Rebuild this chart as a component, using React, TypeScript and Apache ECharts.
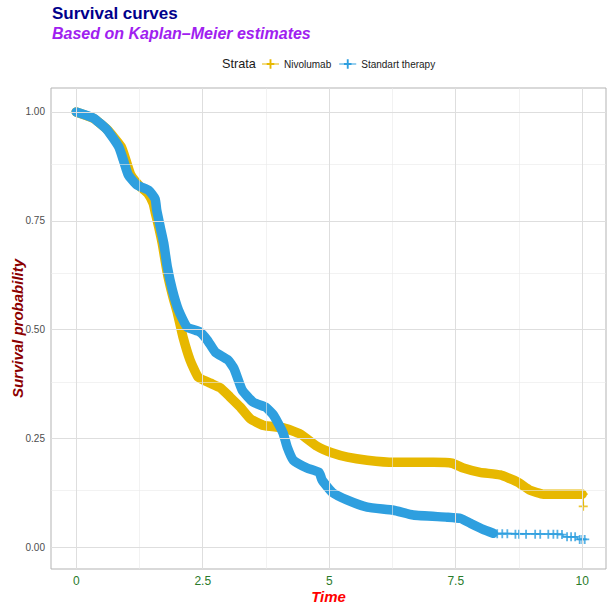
import React, { useEffect, useRef } from "react";
import * as echarts from "echarts";

// ---- Data ----
const strataNames = ["Nivolumab", "Standart therapy"];
const strataColors = ["#E7B800", "#2E9FDF"];

// Nivolumab KM curve (dense censoring band)
const nivoTime = [0, 0.34, 0.61, 0.89, 0.98, 1.08, 1.25, 1.42, 1.52, 1.56, 1.63, 1.7, 1.8, 1.9, 2.0, 2.11, 2.25, 2.41, 2.65, 2.85, 3.04, 3.24, 3.44, 3.7, 4.1, 4.43, 4.76, 5.05, 5.36, 5.75, 6.27, 7.06, 7.43, 7.65, 7.98, 8.38, 8.72, 8.97, 9.23, 10.0];
const nivoSurv = [1.0, 0.985, 0.96, 0.92, 0.89, 0.855, 0.83, 0.812, 0.79, 0.77, 0.736, 0.698, 0.63, 0.58, 0.538, 0.483, 0.43, 0.391, 0.377, 0.366, 0.345, 0.322, 0.295, 0.28, 0.274, 0.26, 0.232, 0.217, 0.207, 0.2, 0.195, 0.195, 0.193, 0.182, 0.172, 0.166, 0.15, 0.131, 0.122, 0.122];
// Nivolumab tail (last step)
const nivoTailTime = [10.0, 10.02, 10.02];
const nivoTailSurv = [0.122, 0.122, 0.094];
const nivoCensorTime = [10.02, 10.02];
const nivoCensorSurv = [0.122, 0.094];

// Standart therapy KM curve (dense censoring band)
const stdTime = [0, 0.34, 0.61, 0.84, 0.93, 1.03, 1.2, 1.43, 1.56, 1.59, 1.66, 1.73, 1.8, 1.9, 2.02, 2.19, 2.45, 2.59, 2.75, 3.0, 3.12, 3.28, 3.5, 3.74, 3.89, 3.99, 4.09, 4.17, 4.29, 4.56, 4.8, 4.86, 5.06, 5.36, 5.75, 6.27, 6.66, 7.33, 7.6, 7.79, 8.04, 8.24];
const stdSurv = [1.0, 0.986, 0.959, 0.92, 0.89, 0.855, 0.832, 0.82, 0.8, 0.775, 0.736, 0.698, 0.644, 0.591, 0.545, 0.506, 0.494, 0.476, 0.448, 0.43, 0.41, 0.361, 0.333, 0.322, 0.305, 0.285, 0.262, 0.23, 0.2, 0.182, 0.172, 0.154, 0.126, 0.108, 0.092, 0.085, 0.074, 0.069, 0.066, 0.055, 0.041, 0.032];
// Standart therapy tail (sparse censoring)
const stdTailTime = [8.24, 9.62, 9.62, 9.9, 9.9, 10.08];
const stdTailSurv = [0.032, 0.03, 0.024, 0.024, 0.018, 0.018];
const stdCensorTime = [8.32, 8.42, 8.52, 8.68, 8.75, 8.89, 9.07, 9.17, 9.33, 9.43, 9.51, 9.6, 9.7, 9.78, 9.86, 9.95, 10.0, 10.05];
const stdCensorSurv = [0.031, 0.031, 0.031, 0.03, 0.03, 0.03, 0.03, 0.03, 0.03, 0.03, 0.03, 0.029, 0.024, 0.024, 0.024, 0.018, 0.018, 0.018];

// Axis ticks
const xTicks = [0, 2.5, 5, 7.5, 10];
const xMinorTicks = [1.25, 3.75, 6.25, 8.75];
const yTicks = [0, 0.25, 0.5, 0.75, 1.0];
const yMinorTicks = [0.125, 0.375, 0.625, 0.875];

const zip = (a: number[], b: number[]) => a.map((v, i) => [v, b[i]]);

const PLUS = "path://M4,0H6V4H10V6H6V10H4V6H0V4H4Z";
const LEGEND_ICON = "path://M0,4.4H18V5.6H0Z M5,4H13V6H5Z M8,0H10V10H8Z";
const FONT = "'Liberation Sans', Arial, Helvetica, sans-serif";

export default function App() {
  const ref = useRef<HTMLDivElement>(null);
  useEffect(() => {
    if (!ref.current) return;
    const chart = echarts.init(ref.current, null, { renderer: "svg" });

    const majorLine = { color: "#DEDEDE", width: 1, type: "solid" as const };
    const minorLine = { color: "#E9E9E9", width: 0.6, type: "solid" as const };

    const gridLines = [
      ...xMinorTicks.map((v) => ({ xAxis: v, lineStyle: minorLine })),
      ...yMinorTicks.map((v) => ({ yAxis: v, lineStyle: minorLine })),
      ...xTicks.map((v) => ({ xAxis: v, lineStyle: majorLine })),
      ...yTicks.map((v) => ({ yAxis: v, lineStyle: majorLine })),
    ];

    const band = (name: string, color: string, t: number[], s: number[], z: number) => ({
      name,
      type: "line",
      data: zip(t, s),
      showSymbol: false,
      smooth: 0.15,
      z,
      itemStyle: { color },
      lineStyle: { color, width: 9.5, cap: "round", join: "round" },
      silent: true,
    });
    const tail = (color: string, t: number[], s: number[], z: number) => ({
      type: "line",
      data: zip(t, s),
      showSymbol: false,
      z,
      lineStyle: { color, width: 1.3 },
      silent: true,
    });
    const marks = (color: string, t: number[], s: number[], z: number) => ({
      type: "scatter",
      data: zip(t, s),
      symbol: PLUS,
      symbolSize: 9,
      z,
      itemStyle: { color },
      silent: true,
    });

    chart.setOption({
      animation: false,
      backgroundColor: "#ffffff",
      textStyle: { fontFamily: FONT },
      grid: {
        left: 51,
        right: 7,
        top: 88,
        bottom: 40,
        containLabel: false,
        outerBoundsMode: "none",
        show: true,
        borderColor: "#B3B3B3",
        borderWidth: 1,
        backgroundColor: "#ffffff",
      },
      legend: {
        data: strataNames,
        left: 262,
        top: 59,
        padding: 0,
        itemWidth: 17,
        itemHeight: 10,
        itemGap: 8,
        icon: LEGEND_ICON,
        textStyle: { fontSize: 10, color: "#1A1A1A", fontFamily: FONT },
        selectedMode: false,
      },
      graphic: [
        {
          type: "text",
          left: 52,
          top: 5,
          style: { text: "Survival curves", font: `bold 17px ${FONT}`, fill: "#00008B" },
        },
        {
          type: "text",
          left: 52,
          top: 25,
          style: {
            text: "Based on Kaplan\u2013Meier estimates",
            font: `italic bold 16px ${FONT}`,
            fill: "#A020F0",
          },
        },
        {
          type: "text",
          left: 222,
          top: 57,
          style: { text: "Strata", font: `12.7px ${FONT}`, fill: "#1A1A1A" },
        },
      ],
      xAxis: {
        type: "value",
        min: -0.4985,
        max: 10.47,
        name: "Time",
        nameLocation: "middle",
        nameGap: 20,
        nameMoveOverlap: false,
        nameTextStyle: { color: "#FF0000", fontSize: 15, fontStyle: "italic", fontWeight: "bold", fontFamily: FONT },
        axisLine: { show: false },
        splitLine: { show: false },
        axisTick: { show: true, customValues: xTicks, length: 4, lineStyle: { color: "#B3B3B3" } },
        axisLabel: {
          customValues: xTicks,
          color: "#2A7B2A",
          fontSize: 12,
          margin: 6,
          fontFamily: FONT,
          formatter: (v: number) => String(v),
        },
      },
      yAxis: {
        type: "value",
        min: -0.05,
        max: 1.055,
        name: "Survival probability",
        nameLocation: "middle",
        nameGap: 26,
        nameMoveOverlap: false,
        nameTextStyle: { color: "#8B0000", fontSize: 15, fontStyle: "italic", fontWeight: "bold", fontFamily: FONT },
        axisLine: { show: false },
        splitLine: { show: false },
        axisTick: { show: true, customValues: yTicks, length: 4, lineStyle: { color: "#B3B3B3" } },
        axisLabel: {
          customValues: yTicks,
          color: "#4D4D4D",
          fontSize: 10,
          margin: 6,
          fontFamily: FONT,
          formatter: (v: number) => v.toFixed(2),
        },
      },
      series: [
        {
          type: "line",
          data: [],
          silent: true,
          z: 1,
          markLine: {
            silent: true,
            symbol: ["none", "none"],
            label: { show: false },
            animation: false,
            data: gridLines,
          },
        },
        band(strataNames[0], strataColors[0], nivoTime, nivoSurv, 2),
        tail(strataColors[0], nivoTailTime, nivoTailSurv, 2),
        marks(strataColors[0], nivoCensorTime, nivoCensorSurv, 2),
        band(strataNames[1], strataColors[1], stdTime, stdSurv, 3),
        tail(strataColors[1], stdTailTime, stdTailSurv, 3),
        marks(strataColors[1], stdCensorTime, stdCensorSurv, 3),
      ],
    });
    return () => chart.dispose();
  }, []);
  return (
    <div
      ref={ref}
      style={{ position: "absolute", left: 0, top: 0, width: 613, height: 609 }}
    />
  );
}
